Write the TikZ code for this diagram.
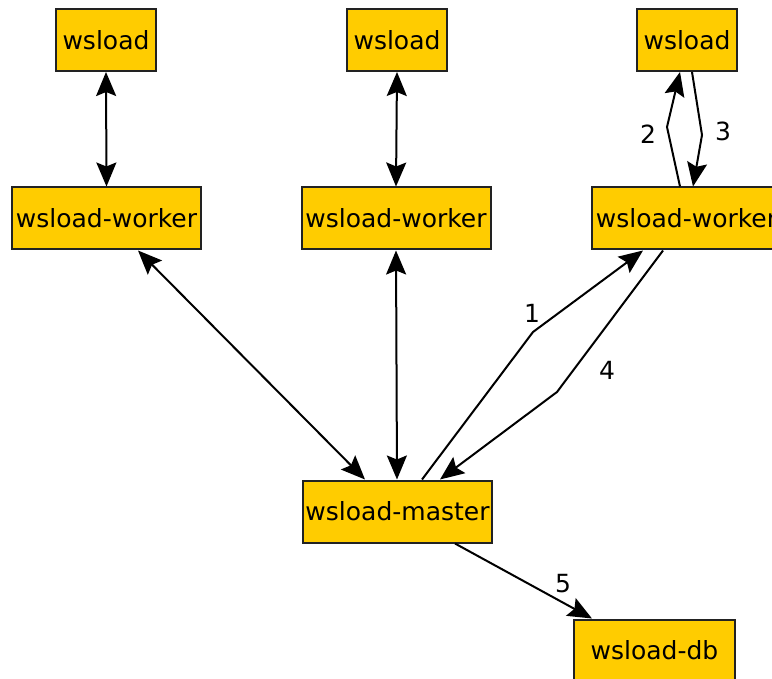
\documentclass[tikz,border=0pt]{standalone}
\usepackage{fontspec}
\setmainfont{DejaVu Sans}
\usetikzlibrary{arrows.meta,calc}
\definecolor{boxfill}{HTML}{FFCC00}
\definecolor{boxline}{HTML}{222222}
\tikzset{
  procbox/.style={draw=boxline, fill=boxfill, line width=2pt, inner sep=0pt,
    minimum height=62pt, font=\fontsize{25}{29}\selectfont},
  shortbox/.style={procbox, minimum width=100pt},
  widebox/.style={procbox, minimum width=189pt},
  link/.style={line width=2pt, draw=black},
  steplabel/.style={font=\fontsize{25}{29}\selectfont, inner sep=0pt}
}
\begin{document}
\begin{tikzpicture}[x=1pt, y=-1pt, >={Stealth[length=24pt, width=20pt, inset=4pt]}]
  \useasboundingbox (0,0) rectangle (772,679);
  \clip (0,0) rectangle (772,679);

  % load generators
  \node[shortbox] (l1) at (106,40) {wsload};
  \node[shortbox] (l2) at (397,40) {wsload};
  \node[shortbox] (l3) at (687,40) {wsload};

  % workers
  \node[widebox] (w1) at (106.5,218.5) {wsload-worker};
  \node[widebox] (w2) at (396,218.5) {wsload-worker};
  \node[widebox] (w3) at (686.5,218.5) {wsload-worker};

  % master and database
  \node[widebox] (m) at (397.5,511.5) {wsload-master};
  \node[procbox, minimum width=161pt] (db) at (654.5,650.5) {wsload-db};

  % bend points of the numbered message paths
  \coordinate (b2) at (667,127);
  \coordinate (b3) at (702,135);
  \coordinate (b1) at (533,332);
  \coordinate (b4) at (557,392);

  % generator <-> worker links
  \draw[link, <->] (l1.south) -- (w1.north);
  \draw[link, <->] (l2.south) -- (w2.north);

  % worker <-> master links
  \draw[link, <->] ([xshift=31.5pt]w1.south) -- ([xshift=-32.5pt]m.north);
  \draw[link, <->] (w2.south) -- ([xshift=-0.5pt]m.north);

  % numbered message sequence
  \draw[link, ->] ([xshift=24.5pt]m.north) -- (b1) -- ([xshift=-43.5pt]w3.south);
  \draw[link, ->] ([xshift=-6.5pt]w3.north) -- (b2) -- ([xshift=-7pt]l3.south);
  \draw[link, ->] ([xshift=5pt]l3.south) -- (b3) -- ([xshift=6.5pt]w3.north);
  \draw[link, ->] ([xshift=-23.5pt]w3.south) -- (b4) -- ([xshift=42.5pt]m.north);
  \draw[link, ->] ([xshift=57.5pt]m.south) -- ([xshift=-62.5pt]db.north);

  \node[steplabel] (n1) at (532,313.5) {1};
  \node[steplabel] (n2) at (648,134.5) {2};
  \node[steplabel] (n3) at (723,131) {3};
  \node[steplabel] (n4) at (607,370) {4};
  \node[steplabel] (n5) at (563,584) {5};
\end{tikzpicture}
\end{document}
